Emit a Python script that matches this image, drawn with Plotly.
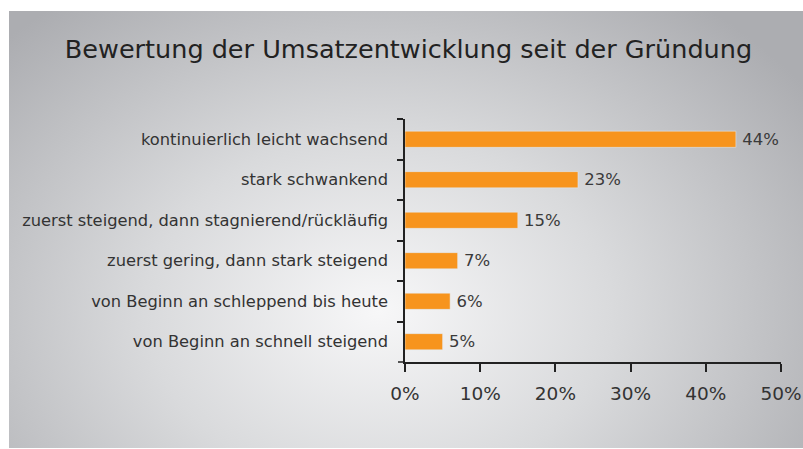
import base64
import plotly.graph_objects as go

categories = [
    "kontinuierlich leicht wachsend",
    "stark schwankend",
    "zuerst steigend, dann stagnierend/rückläufig",
    "zuerst gering, dann stark steigend",
    "von Beginn an schleppend bis heute",
    "von Beginn an schnell steigend",
]
values = [44, 23, 15, 7, 6, 5]
tick_vals = [0, 10, 20, 30, 40, 50]
tick_text = ["0%", "10%", "20%", "30%", "40%", "50%"]

W, H = 803, 449
L, R, T, B = 405, 22, 119, 87
pw, ph = W - L - R, H - T - B
FONT = "DejaVu Sans"

svg = (
    '<svg xmlns="http://www.w3.org/2000/svg" width="794" height="437" viewBox="0 0 794 437" preserveAspectRatio="none">'
    '<defs><radialGradient id="g" gradientUnits="userSpaceOnUse" cx="370" cy="300" r="520" '
    'gradientTransform="translate(370 300) scale(1 0.75) translate(-370 -300)">'
    '<stop offset="0" stop-color="#f7f7f8"/>'
    '<stop offset="0.45" stop-color="#d9dadc"/>'
    '<stop offset="1" stop-color="#acadb1"/>'
    '</radialGradient></defs>'
    '<rect width="794" height="437" fill="url(#g)"/></svg>'
)
src = "data:image/svg+xml;base64," + base64.b64encode(svg.encode()).decode()

fig = go.Figure(
    go.Bar(
        x=values,
        y=categories,
        orientation="h",
        marker_color="#f7941d",
        width=0.4,
        text=[f"\u2009{v}%" for v in values],
        textposition="outside",
        constraintext="none",
        textfont=dict(size=16.5, color="#3a3a3a", family=FONT),
        cliponaxis=False,
    )
)

fig.add_layout_image(
    dict(
        source=src,
        xref="paper", yref="paper",
        x=(9 - L) / pw, y=(T + ph - 11) / ph,
        sizex=794 / pw, sizey=437 / ph,
        xanchor="left", yanchor="top",
        sizing="stretch", layer="below",
    )
)

fig.add_shape(
    type="line", xref="paper", yref="paper",
    x0=-7 / pw, x1=0, y0=0, y1=0,
    line=dict(color="#222", width=1.5),
)

fig.update_layout(
    width=W, height=H,
    margin=dict(l=L, r=R, t=T, b=B),
    paper_bgcolor="white",
    plot_bgcolor="rgba(0,0,0,0)",
    showlegend=False,
    title=dict(
        text="Bewertung der Umsatzentwicklung seit der Gründung",
        x=408.5 / W, xanchor="center",
        y=1 - 49 / H, yanchor="middle",
        font=dict(size=25.5, color="#222", family=FONT),
    ),
    xaxis=dict(
        range=[0, 50],
        automargin=False,
        tickvals=tick_vals, ticktext=tick_text,
        showgrid=False, zeroline=False,
        showline=True, linecolor="#222", linewidth=1.5,
        ticks="outside", ticklen=8, tickcolor="#222", tickwidth=1.5,
        ticklabelstandoff=6,
        tickfont=dict(size=18.5, color="#333", family=FONT),
    ),
    yaxis=dict(
        autorange="reversed",
        automargin=False,
        showgrid=False, zeroline=False,
        showline=True, linecolor="#222", linewidth=1.5,
        ticks="outside", ticklen=6, tickcolor="#222", tickwidth=1.5,
        tickson="boundaries",
        ticklabelstandoff=12,
        tickfont=dict(size=16.3, color="#333", family=FONT),
    ),
)

fig.write_html(
    "out.html",
    config={"displayModeBar": False},
    post_script="document.body.style.margin='0';document.body.style.padding='0';",
)
